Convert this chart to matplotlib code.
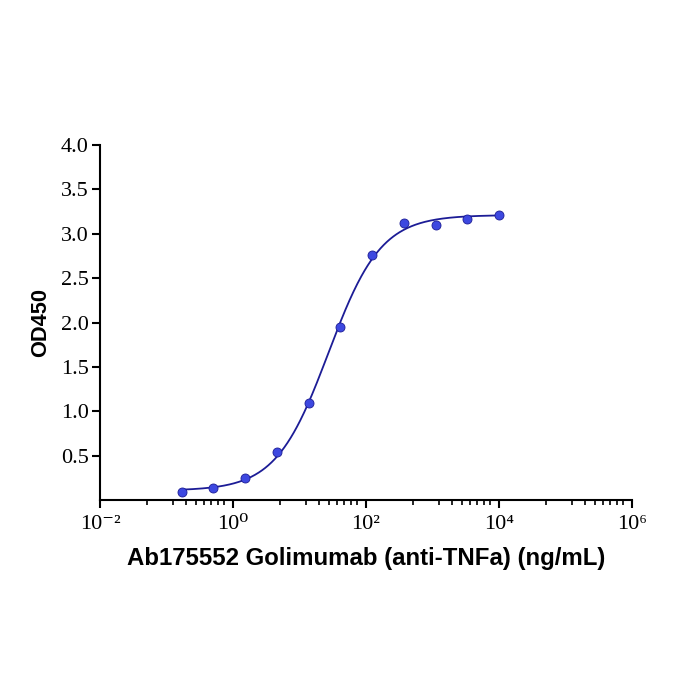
import numpy as np
import matplotlib
matplotlib.use("Agg")
import matplotlib.pyplot as plt
from matplotlib.ticker import FixedLocator, FixedFormatter, NullFormatter

# Data (3-fold dilution series, ng/mL) and OD450 readings
conc = [10000, 3333.3, 1111.1, 370.4, 123.5, 41.15, 13.72, 4.572, 1.524, 0.508, 0.1694]
od450 = [3.21, 3.167, 3.096, 3.125, 2.766, 1.946, 1.09, 0.54, 0.247, 0.13, 0.086]

x_major = [1e-2, 1e0, 1e2, 1e4, 1e6]
x_labels = ["10\u207b\u00b2", "10\u2070", "10\u00b2", "10\u2074", "10\u2076"]
y_ticks = [0.5, 1.0, 1.5, 2.0, 2.5, 3.0, 3.5, 4.0]
y_labels = ["0.5", "1.0", "1.5", "2.0", "2.5", "3.0", "3.5", "4.0"]

xlabel = "Ab175552 Golimumab (anti-TNFa) (ng/mL)"
ylabel = "OD450"

# 4PL fit from the data (grid search on EC50/hill, linear LS on bottom/top)
x = np.array(conc)
y = np.array(od450)
best = None
for lec in np.linspace(0.5, 2.5, 401):
    for h in np.linspace(0.5, 2.5, 201):
        f = 1.0 / (1.0 + (10 ** lec / x) ** h)
        A = np.column_stack([1 - f, f])
        coef, *_ = np.linalg.lstsq(A, y, rcond=None)
        r = np.sum((A @ coef - y) ** 2)
        if best is None or r < best[0]:
            best = (r, lec, h, coef)
_, lec, h, (bot, top) = best
xs = np.logspace(np.log10(x.min()), np.log10(x.max()), 400)
ys = bot + (top - bot) / (1.0 + (10 ** lec / xs) ** h)

fig = plt.figure(figsize=(7, 7), dpi=100)
ax = fig.add_axes([100 / 700, 1 - 500 / 700, 532 / 700, 355 / 700])

ax.plot(xs, ys, color="#1c1c96", lw=1.3, zorder=2)
ax.plot(x, y, "o", ms=6.5, color="#3d48e0", mec="#1c1c96", mew=0.6, zorder=3)

ax.set_xscale("log")
ax.set_xlim(1e-2, 1e6)
ax.set_ylim(0, 4.0)

ax.xaxis.set_major_locator(FixedLocator(x_major))
ax.xaxis.set_major_formatter(FixedFormatter(x_labels))
minor_frac = [0.35, 0.55, 0.65, 0.72, 0.78, 0.835, 0.885, 0.935]
minors = [10 ** (e + 2 * p) for e in [-2, 0, 2, 4] for p in minor_frac]
ax.xaxis.set_minor_locator(FixedLocator(minors))
ax.xaxis.set_minor_formatter(NullFormatter())

ax.yaxis.set_major_locator(FixedLocator(y_ticks))
ax.yaxis.set_major_formatter(FixedFormatter(y_labels))
ax.yaxis.set_minor_locator(FixedLocator([]))

for s in ["top", "right"]:
    ax.spines[s].set_visible(False)
for s in ["left", "bottom"]:
    ax.spines[s].set_linewidth(1.5)

ax.tick_params(axis="both", which="major", direction="out", length=6, width=1.5,
               labelsize=16, pad=2)
ax.tick_params(axis="x", which="major", pad=5)
ax.tick_params(axis="x", which="minor", direction="out", length=3.5, width=1.2)
for lab in ax.get_yticklabels() + ax.get_xticklabels():
    lab.set_fontfamily(["Liberation Serif", "DejaVu Serif"])

ax.set_xlabel(xlabel, fontsize=17.3, fontweight="bold", family="Liberation Sans", labelpad=9)
ax.set_ylabel(ylabel, fontsize=15.7, fontweight="bold", family="Liberation Sans", labelpad=7)

fig.savefig("out.png", dpi=100, facecolor="white")
